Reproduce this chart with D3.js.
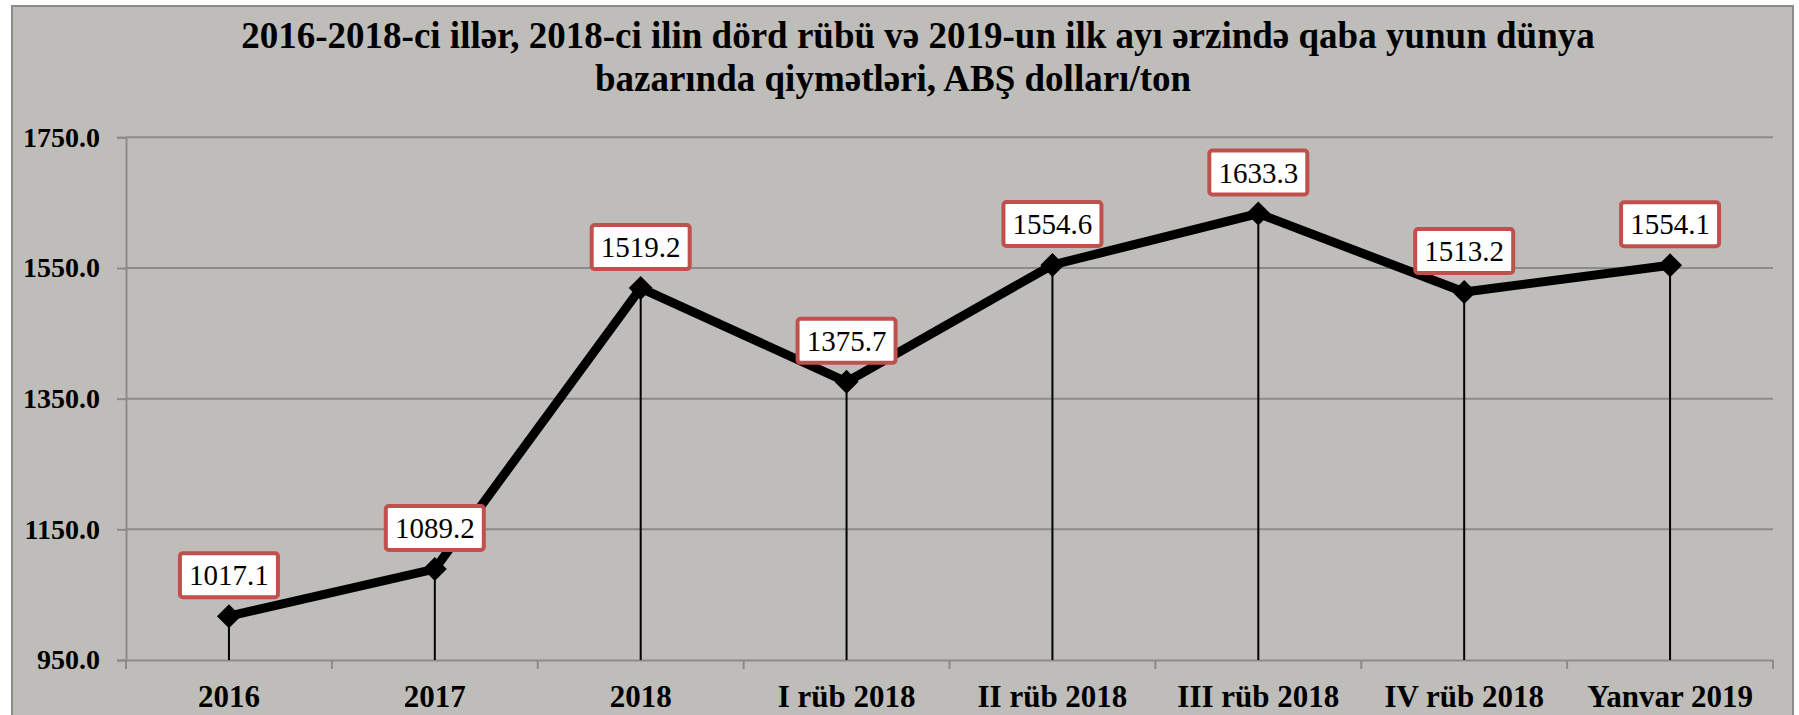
<!DOCTYPE html>
<html>
<head>
<meta charset="utf-8">
<script src="https://cdn.jsdelivr.net/npm/d3@7"></script>
<style>
    html, body { margin: 0; padding: 0; background: #ffffff; }
    svg { display: block; }
</style>
</head>
<body>
<svg id="chart_svg" width="1799" height="715"></svg>
<script>
// data
var CATEGORIES = ["2016", "2017", "2018", "I rüb 2018", "II rüb 2018", "III rüb 2018", "IV rüb 2018", "Yanvar 2019"];
var PRICES = [1017.1, 1089.2, 1519.2, 1375.7, 1554.6, 1633.3, 1513.2, 1554.1];
var Y_TICKS = [950, 1150, 1350, 1550, 1750];
var TITLE_LINES = [
    "2016-2018-ci illər, 2018-ci ilin dörd rübü və 2019-un ilk ayı ərzində qaba yunun dünya",
    "bazarında qiymətləri, ABŞ dolları/ton"
];

var svg = d3.select("#chart_svg");
var FONT = "'Liberation Serif', 'Times New Roman', serif";
var GRID_COLOR = "#8b8b8b";

var PLOT = {left: 126, right: 1773, top: 137.3, bottom: 660};

function drawChart() {
    // chart area with grey background and frame
    svg.append("rect")
        .attr("x", 12).attr("y", 6)
        .attr("width", 1781).attr("height", 730)
        .attr("fill", "#bebdb9")
        .attr("stroke", "#8c8c8c")
        .attr("stroke-width", 2);

    // title
    var title = svg.append("text")
        .attr("font-family", FONT)
        .attr("font-weight", "bold")
        .attr("font-size", 37)
        .attr("fill", "#000")
        .attr("text-anchor", "middle");
    title.append("tspan").attr("x", 918).attr("y", 48).text(TITLE_LINES[0]);
    title.append("tspan").attr("x", 893).attr("y", 91).text(TITLE_LINES[1]);

    var x = d3.scaleBand()
        .domain(CATEGORIES)
        .range([PLOT.left, PLOT.right])
        .padding(0);

    var y = d3.scaleLinear()
        .domain([950, 1750])
        .range([PLOT.bottom, PLOT.top]);

    // horizontal grid lines
    svg.append("g")
        .selectAll("line")
        .data(Y_TICKS.slice(1))
        .enter()
        .append("line")
        .attr("x1", PLOT.left)
        .attr("x2", PLOT.right)
        .attr("y1", function(d) { return y(d); })
        .attr("y2", function(d) { return y(d); })
        .style("stroke", GRID_COLOR)
        .style("stroke-width", 2);

    // y axis
    var yAxis = svg.append("g")
        .attr("transform", "translate(" + PLOT.left + ",0)")
        .call(d3.axisLeft(y)
            .tickValues(Y_TICKS)
            .tickFormat(d3.format(".1f"))
            .tickSize(9)
            .tickPadding(17));
    yAxis.select(".domain").attr("stroke", GRID_COLOR).attr("stroke-width", 2);
    yAxis.selectAll(".tick line").attr("stroke", GRID_COLOR).attr("stroke-width", 2);
    yAxis.selectAll("text")
        .attr("font-family", FONT)
        .attr("font-weight", "bold")
        .attr("font-size", 28)
        .attr("fill", "#000");

    // x axis, ticks between categories
    var xAxis = svg.append("g")
        .attr("transform", "translate(0," + PLOT.bottom + ")")
        .call(d3.axisBottom(x).tickSize(0).tickPadding(25));
    xAxis.select(".domain").attr("stroke", GRID_COLOR).attr("stroke-width", 2);
    xAxis.selectAll("text")
        .attr("font-family", FONT)
        .attr("font-weight", "bold")
        .attr("font-size", 31)
        .attr("fill", "#000");
    xAxis.selectAll(".sep")
        .data(d3.range(CATEGORIES.length + 1))
        .enter()
        .append("line")
        .attr("class", "sep")
        .attr("x1", function(i) { return PLOT.left + i * x.step(); })
        .attr("x2", function(i) { return PLOT.left + i * x.step(); })
        .attr("y1", 0)
        .attr("y2", 9)
        .attr("stroke", GRID_COLOR)
        .attr("stroke-width", 2);

    var points = CATEGORIES.map(function(c, i) {
        return {cat: c, value: PRICES[i], px: x(c) + x.bandwidth() / 2, py: y(PRICES[i])};
    });

    // drop lines
    svg.append("g")
        .selectAll("line")
        .data(points)
        .enter()
        .append("line")
        .attr("x1", function(d) { return d.px; })
        .attr("x2", function(d) { return d.px; })
        .attr("y1", function(d) { return d.py; })
        .attr("y2", PLOT.bottom)
        .style("stroke", "#000")
        .style("stroke-width", 2);

    // the line itself
    var line = d3.line()
        .x(function(d) { return d.px; })
        .y(function(d) { return d.py; });

    svg.append("path")
        .datum(points)
        .attr("d", line)
        .attr("fill", "none")
        .attr("stroke", "#000")
        .attr("stroke-width", 9)
        .attr("stroke-linejoin", "miter");

    // diamond markers
    svg.append("g")
        .selectAll("path")
        .data(points)
        .enter()
        .append("path")
        .attr("d", "M0,-12L12,0L0,12L-12,0Z")
        .attr("transform", function(d) { return "translate(" + d.px + "," + d.py + ")"; })
        .attr("fill", "#000");

    // data labels in white boxes with red frame
    var labels = svg.append("g")
        .selectAll("g")
        .data(points)
        .enter()
        .append("g")
        .attr("transform", function(d) { return "translate(" + d.px + "," + (d.py - 41) + ")"; });

    labels.append("rect")
        .attr("x", -49).attr("y", -22)
        .attr("width", 98).attr("height", 44)
        .attr("rx", 3)
        .attr("fill", "#ffffff")
        .attr("stroke", "#c0504d")
        .attr("stroke-width", 4);

    labels.append("text")
        .attr("text-anchor", "middle")
        .attr("y", 10)
        .attr("font-family", FONT)
        .attr("font-size", 29)
        .attr("fill", "#000")
        .text(function(d) { return d3.format(".1f")(d.value); });
}

drawChart();
</script>
</body>
</html>
